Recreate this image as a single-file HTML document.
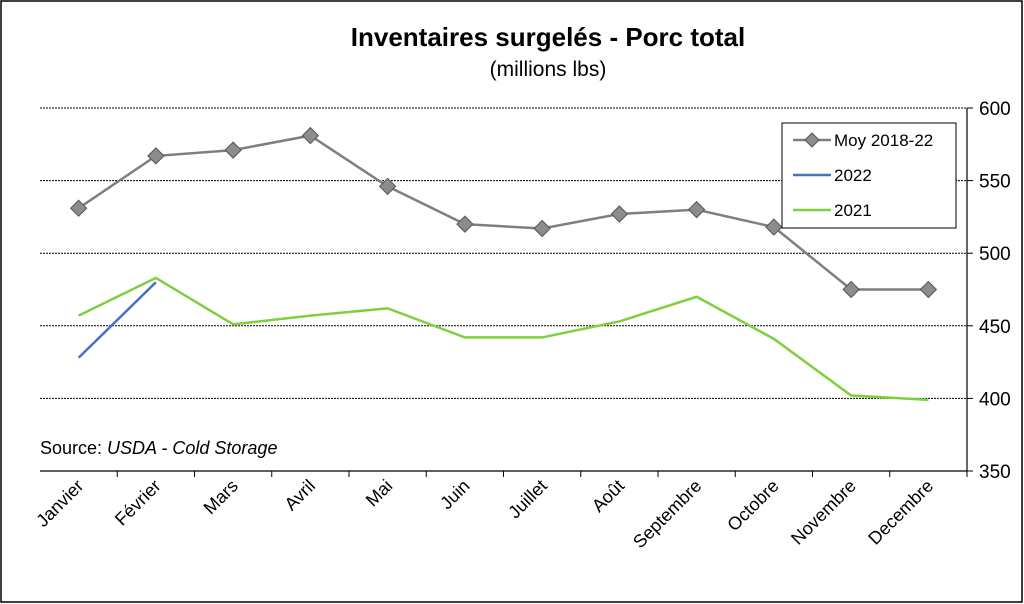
<!DOCTYPE html>
<html><head><meta charset="utf-8"><style>
body{margin:0;background:#fff}
svg{display:block;font-family:"Liberation Sans",Arial,sans-serif}
</style></head><body>
<svg id="c" width="1024" height="604" viewBox="0 0 1024 604">
<rect x="1" y="1" width="1021" height="601" fill="#fff" stroke="#000" stroke-width="1.5"/>
<text x="548" y="46" text-anchor="middle" font-size="26" font-weight="bold">Inventaires surgelés - Porc total</text>
<text x="548" y="76" text-anchor="middle" font-size="21">(millions lbs)</text>
<g id="grid"></g><g id="axes"></g><g id="series"></g>
<text x="40" y="454" font-size="18">Source: <tspan font-style="italic">USDA - Cold Storage</tspan></text>
<g>
<rect x="782" y="123" width="174" height="105" fill="#fff" stroke="#000" stroke-width="1"/>
<line x1="793" y1="140" x2="831" y2="140" stroke="#7f7f7f" stroke-width="2.5"/>
<path d="M812 133 L819 140 L812 147 L805 140Z" fill="#8c8c8c" stroke="#555"/>
<text x="834" y="146" font-size="17">Moy 2018-22</text>
<line x1="793" y1="175" x2="831" y2="175" stroke="#4472c4" stroke-width="2.5"/>
<text x="834" y="181" font-size="17">2022</text>
<line x1="793" y1="210" x2="831" y2="210" stroke="#7ed03f" stroke-width="2.5"/>
<text x="834" y="216" font-size="17">2021</text>
</g>
</svg>
<script>
const categories=["Janvier","Février","Mars","Avril","Mai","Juin","Juillet","Août","Septembre","Octobre","Novembre","Decembre"];
const avgValues=[531,567,571,581,546,520,517,527,530,518,475,475];
const v2022=[428,480];
const v2021=[457,483,451,457,462,442,442,453,470,441,402,399];
const yTicks=[350,400,450,500,550,600];
const NS="http://www.w3.org/2000/svg";
const L=40,R=967,T=108,B=471,yMin=350,yMax=600;
const bw=(R-L)/categories.length;
const x=i=>L+bw*(i+0.5);
const y=v=>B-(v-yMin)/(yMax-yMin)*(B-T);
function mk(tag,attrs,parent){const e=document.createElementNS(NS,tag);for(const k in attrs)e.setAttribute(k,attrs[k]);document.getElementById(parent).appendChild(e);return e;}
yTicks.forEach(t=>{
  if(t>yMin){const g=mk('line',{x1:L,x2:R,y1:y(t),y2:y(t),stroke:'#000','stroke-width':1,'stroke-dasharray':'2,1'},'grid');
  
  }
  const tk=mk('line',{x1:R,x2:R+6,y1:y(t),y2:y(t),stroke:'#000'},'axes');
  
  
  const lb=mk('text',{x:R+12,y:y(t)+7,'font-size':19},'axes');lb.textContent=t;
  
  
});
const ya=mk('line',{x1:R,x2:R,y1:T,y2:B,stroke:'#000','stroke-width':1.2},'axes');


const xa=mk('line',{x1:L,x2:R,y1:B,y2:B,stroke:'#000','stroke-width':1.2},'axes');


categories.forEach((c,i)=>{
  const tk=mk('line',{x1:L+bw*(i+1),x2:L+bw*(i+1),y1:B,y2:B+6,stroke:'#000'},'axes');
  
  
  const ax=x(i)+6,ay=B+16;
  const t=mk('text',{x:ax,y:ay,'font-size':18,'text-anchor':'end',transform:`rotate(-45 ${ax} ${ay})`},'axes');
  t.textContent=c;
  
  
});
function line(vals,color,name){
  const p=mk('polyline',{points:vals.map((v,i)=>x(i)+','+y(v)).join(' '),fill:'none',stroke:color,'stroke-width':2.5},'series');
  
  
}
line(v2021,'#7ed03f','line-2021');
line(v2022,'#4472c4','line-2022');
line(avgValues,'#7f7f7f','line-avg');
avgValues.forEach((v,i)=>{
  const cx=x(i),cy=y(v);
  const m=mk('path',{d:`M${cx} ${cy-8} L${cx+8} ${cy} L${cx} ${cy+8} L${cx-8} ${cy}Z`,fill:'#8c8c8c',stroke:'#555','stroke-width':1},'series');
  
  
});
</script>
</body></html>
